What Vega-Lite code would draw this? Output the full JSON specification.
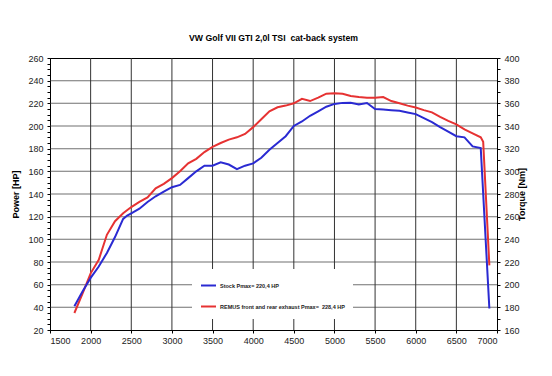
{
  "$schema": "https://vega.github.io/schema/vega-lite/v6.json",
  "autosize": {"type": "none"},
  "width": 447,
  "height": 272,
  "padding": {"left": 50, "top": 58, "right": 55, "bottom": 46},
  "background": "white",
  "title": {"text": "VW Golf VII GTI 2,0l TSI \u00a0cat-back system", "font": "Liberation Sans", "fontSize": 8.7, "fontWeight": "bold", "color": "black", "anchor": "middle", "offset": 11},
  "config": {
    "view": {"stroke": "black", "strokeWidth": 1},
    "axis": {"labelFont": "Liberation Sans", "labelFontSize": 9, "labelColor": "#222", "titleFont": "Liberation Sans", "titleFontSize": 9, "titleFontWeight": "bold", "titleColor": "black", "domainColor": "black", "tickColor": "black"}
  },
  "layer": [
    {
      "data": {"values": [{"rpm": 2000}, {"rpm": 2500}, {"rpm": 3000}, {"rpm": 3500}, {"rpm": 4000}, {"rpm": 4500}, {"rpm": 5000}, {"rpm": 5500}, {"rpm": 6000}, {"rpm": 6500}]},
      "mark": {"type": "rule", "color": "#333", "strokeWidth": 1},
      "encoding": {
        "x": {"field": "rpm", "type": "quantitative"}
      }
    },
    {
      "data": {"values": [{"hp": 40}, {"hp": 60}, {"hp": 80}, {"hp": 100}, {"hp": 120}, {"hp": 140}, {"hp": 160}, {"hp": 180}, {"hp": 200}, {"hp": 220}, {"hp": 240}]},
      "mark": {"type": "tick", "color": "#333", "thickness": 1, "size": 447, "orient": "horizontal"},
      "encoding": {
        "y": {"field": "hp", "type": "quantitative", "axis": null},
        "x": {"datum": 4250, "type": "quantitative"}
      }
    },
    {
      "data": {"values": [
        {"series": "REMUS", "rpm": 1800, "hp": 35}, {"series": "REMUS", "rpm": 1900, "hp": 52}, {"series": "REMUS", "rpm": 2000, "hp": 70},
        {"series": "REMUS", "rpm": 2100, "hp": 82}, {"series": "REMUS", "rpm": 2200, "hp": 104}, {"series": "REMUS", "rpm": 2300, "hp": 116},
        {"series": "REMUS", "rpm": 2400, "hp": 123}, {"series": "REMUS", "rpm": 2500, "hp": 128.5}, {"series": "REMUS", "rpm": 2600, "hp": 133},
        {"series": "REMUS", "rpm": 2700, "hp": 137}, {"series": "REMUS", "rpm": 2800, "hp": 145}, {"series": "REMUS", "rpm": 2900, "hp": 149},
        {"series": "REMUS", "rpm": 3000, "hp": 154}, {"series": "REMUS", "rpm": 3100, "hp": 160}, {"series": "REMUS", "rpm": 3200, "hp": 167},
        {"series": "REMUS", "rpm": 3300, "hp": 171}, {"series": "REMUS", "rpm": 3400, "hp": 177}, {"series": "REMUS", "rpm": 3500, "hp": 181.5},
        {"series": "REMUS", "rpm": 3600, "hp": 185}, {"series": "REMUS", "rpm": 3700, "hp": 188}, {"series": "REMUS", "rpm": 3800, "hp": 190},
        {"series": "REMUS", "rpm": 3900, "hp": 193}, {"series": "REMUS", "rpm": 4000, "hp": 199}, {"series": "REMUS", "rpm": 4100, "hp": 206},
        {"series": "REMUS", "rpm": 4200, "hp": 213}, {"series": "REMUS", "rpm": 4300, "hp": 216.5}, {"series": "REMUS", "rpm": 4400, "hp": 218},
        {"series": "REMUS", "rpm": 4500, "hp": 220}, {"series": "REMUS", "rpm": 4600, "hp": 224}, {"series": "REMUS", "rpm": 4700, "hp": 222},
        {"series": "REMUS", "rpm": 4800, "hp": 225}, {"series": "REMUS", "rpm": 4900, "hp": 228.5}, {"series": "REMUS", "rpm": 5000, "hp": 229},
        {"series": "REMUS", "rpm": 5100, "hp": 228.5}, {"series": "REMUS", "rpm": 5200, "hp": 226.5}, {"series": "REMUS", "rpm": 5300, "hp": 225.5},
        {"series": "REMUS", "rpm": 5400, "hp": 225}, {"series": "REMUS", "rpm": 5500, "hp": 225}, {"series": "REMUS", "rpm": 5600, "hp": 225.5},
        {"series": "REMUS", "rpm": 5700, "hp": 222}, {"series": "REMUS", "rpm": 5800, "hp": 220}, {"series": "REMUS", "rpm": 5900, "hp": 218},
        {"series": "REMUS", "rpm": 6000, "hp": 216.3}, {"series": "REMUS", "rpm": 6100, "hp": 214}, {"series": "REMUS", "rpm": 6200, "hp": 212},
        {"series": "REMUS", "rpm": 6300, "hp": 208}, {"series": "REMUS", "rpm": 6400, "hp": 204.5}, {"series": "REMUS", "rpm": 6500, "hp": 201.5},
        {"series": "REMUS", "rpm": 6600, "hp": 197}, {"series": "REMUS", "rpm": 6700, "hp": 193.5}, {"series": "REMUS", "rpm": 6800, "hp": 190},
        {"series": "REMUS", "rpm": 6830, "hp": 186}, {"series": "REMUS", "rpm": 6906, "hp": 77},
        {"series": "Stock", "rpm": 1800, "hp": 41}, {"series": "Stock", "rpm": 1900, "hp": 54}, {"series": "Stock", "rpm": 2000, "hp": 66},
        {"series": "Stock", "rpm": 2100, "hp": 76}, {"series": "Stock", "rpm": 2200, "hp": 88}, {"series": "Stock", "rpm": 2300, "hp": 102},
        {"series": "Stock", "rpm": 2400, "hp": 118}, {"series": "Stock", "rpm": 2450, "hp": 121}, {"series": "Stock", "rpm": 2500, "hp": 123},
        {"series": "Stock", "rpm": 2600, "hp": 127}, {"series": "Stock", "rpm": 2700, "hp": 133}, {"series": "Stock", "rpm": 2800, "hp": 138},
        {"series": "Stock", "rpm": 2900, "hp": 142}, {"series": "Stock", "rpm": 3000, "hp": 146}, {"series": "Stock", "rpm": 3100, "hp": 148},
        {"series": "Stock", "rpm": 3200, "hp": 154}, {"series": "Stock", "rpm": 3300, "hp": 160}, {"series": "Stock", "rpm": 3400, "hp": 165},
        {"series": "Stock", "rpm": 3500, "hp": 165}, {"series": "Stock", "rpm": 3600, "hp": 168}, {"series": "Stock", "rpm": 3700, "hp": 166},
        {"series": "Stock", "rpm": 3800, "hp": 162}, {"series": "Stock", "rpm": 3900, "hp": 165}, {"series": "Stock", "rpm": 4000, "hp": 167},
        {"series": "Stock", "rpm": 4100, "hp": 172}, {"series": "Stock", "rpm": 4200, "hp": 179}, {"series": "Stock", "rpm": 4300, "hp": 185},
        {"series": "Stock", "rpm": 4400, "hp": 191}, {"series": "Stock", "rpm": 4500, "hp": 200}, {"series": "Stock", "rpm": 4600, "hp": 204},
        {"series": "Stock", "rpm": 4700, "hp": 209}, {"series": "Stock", "rpm": 4800, "hp": 213}, {"series": "Stock", "rpm": 4900, "hp": 217},
        {"series": "Stock", "rpm": 5000, "hp": 219.5}, {"series": "Stock", "rpm": 5100, "hp": 220.4}, {"series": "Stock", "rpm": 5200, "hp": 220.6},
        {"series": "Stock", "rpm": 5300, "hp": 219}, {"series": "Stock", "rpm": 5400, "hp": 220.3}, {"series": "Stock", "rpm": 5500, "hp": 215},
        {"series": "Stock", "rpm": 5600, "hp": 214.5}, {"series": "Stock", "rpm": 5700, "hp": 214}, {"series": "Stock", "rpm": 5800, "hp": 213.5},
        {"series": "Stock", "rpm": 5900, "hp": 212}, {"series": "Stock", "rpm": 6000, "hp": 210.5}, {"series": "Stock", "rpm": 6100, "hp": 207},
        {"series": "Stock", "rpm": 6200, "hp": 203.5}, {"series": "Stock", "rpm": 6300, "hp": 199}, {"series": "Stock", "rpm": 6400, "hp": 195},
        {"series": "Stock", "rpm": 6500, "hp": 191}, {"series": "Stock", "rpm": 6600, "hp": 190}, {"series": "Stock", "rpm": 6700, "hp": 182},
        {"series": "Stock", "rpm": 6800, "hp": 180.5}, {"series": "Stock", "rpm": 6906, "hp": 39}
      ]},
      "mark": {"type": "line", "strokeWidth": 2},
      "encoding": {
        "x": {"field": "rpm", "type": "quantitative", "scale": {"domain": [1500, 7000], "nice": false, "zero": false},
          "axis": {"orient": "bottom", "title": null, "format": "d", "values": [1500,1750,2000,2250,2500,2750,3000,3250,3500,3750,4000,4250,4500,4750,5000,5250,5500,5750,6000,6250,6500,6750,7000],
            "labelExpr": "datum.value % 500 == 0 ? datum.label : ''", "tickSize": 3, "grid": false, "labelPadding": 3}},
        "y": {"field": "hp", "type": "quantitative", "scale": {"domain": [20, 260], "nice": false, "zero": false},
          "axis": {"orient": "left", "title": "Power [HP]", "format": "d", "values": [20,25,30,35,40,45,50,55,60,65,70,75,80,85,90,95,100,105,110,115,120,125,130,135,140,145,150,155,160,165,170,175,180,185,190,195,200,205,210,215,220,225,230,235,240,245,250,255,260],
            "labelExpr": "datum.value % 20 == 0 ? datum.label : ''", "tickSize": 3, "grid": false, "labelPadding": 4, "titlePadding": 7}},
        "color": {"field": "series", "type": "nominal",
          "scale": {"domain": ["Stock", "REMUS"], "range": ["#2a2ad2", "#e63232"]},
          "legend": {"orient": "none", "legendX": 142, "legendY": 211, "title": null, "fillColor": "white", "padding": 8,
            "symbolType": "stroke", "symbolStrokeWidth": 2, "symbolSize": 225, "labelOffset": 3, "rowPadding": 8,
            "labelFont": "Liberation Sans", "labelFontSize": 5.5, "labelFontWeight": "bold", "labelColor": "#222", "labelLimit": 400,
            "labelExpr": "datum.value == 'Stock' ? 'Stock Pmax= 220,4 HP' : 'REMUS front and rear exhaust Pmax= \u00a0228,4 HP'"}}
      }
    },
    {
      "data": {"values": [{"hp": 20, "torque": 160}, {"hp": 260, "torque": 400}]},
      "mark": {"type": "point", "opacity": 0},
      "encoding": {
        "y": {"field": "hp", "type": "quantitative",
          "axis": {"orient": "right", "title": "Torque [Nm]", "titleAngle": 270, "values": [20,30,40,50,60,70,80,90,100,110,120,130,140,150,160,170,180,190,200,210,220,230,240,250,260],
            "labelExpr": "datum.value % 20 == 0 ? format(datum.value + 140, 'd') : ''", "tickSize": 3, "grid": false, "labelPadding": 4, "titlePadding": 7}}
      }
    }
  ],
  "resolve": {"axis": {"y": "independent"}}
}
